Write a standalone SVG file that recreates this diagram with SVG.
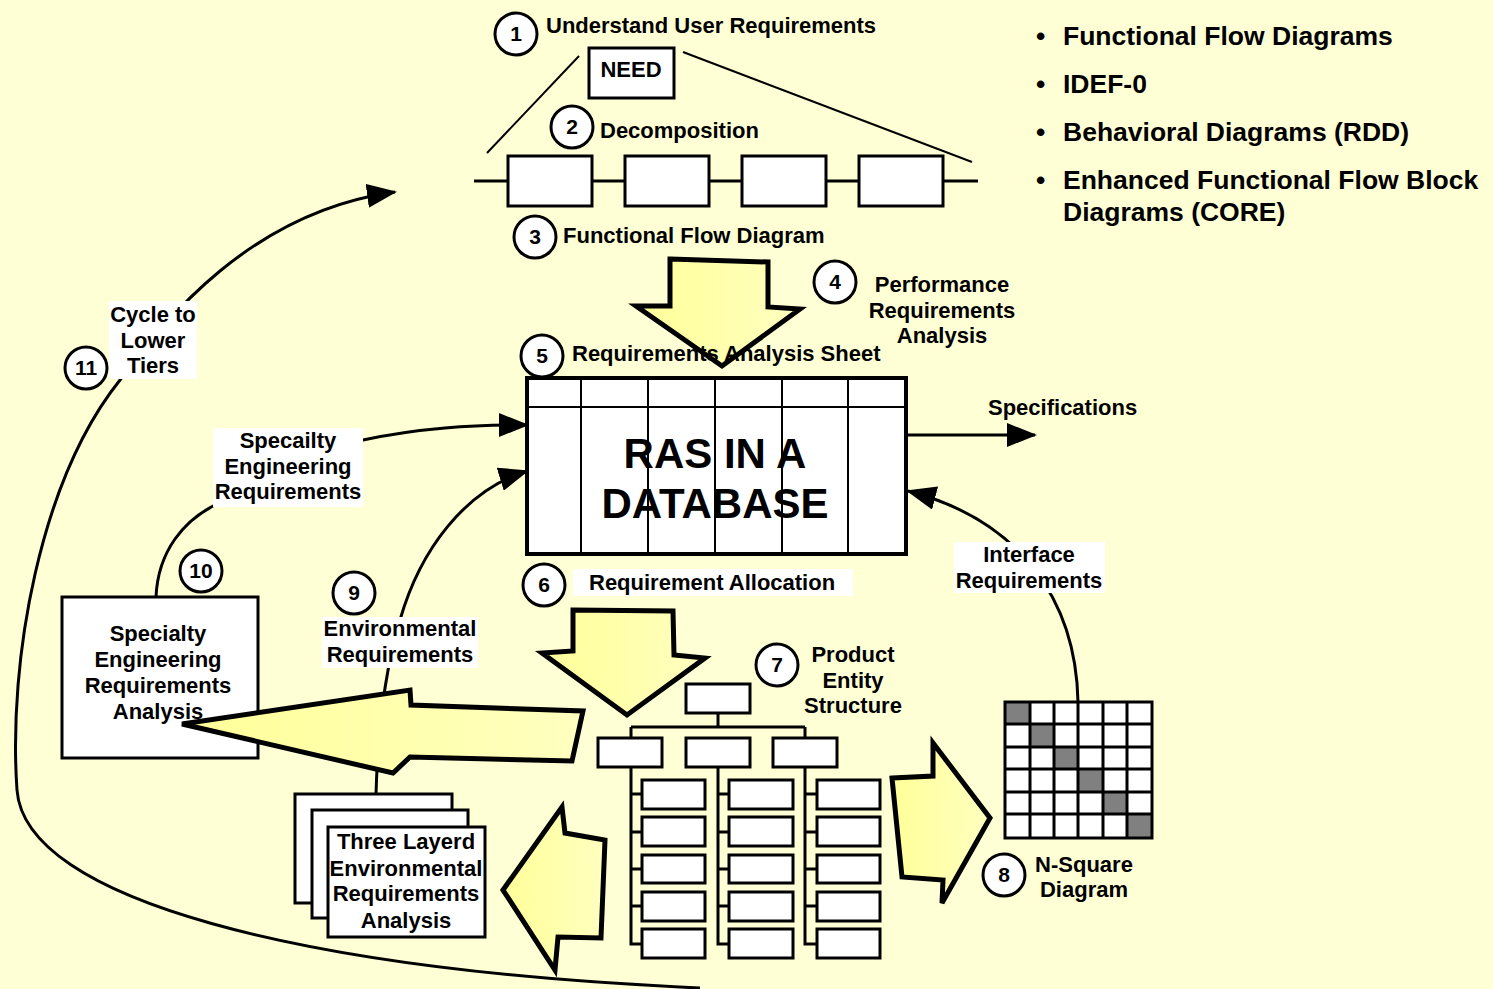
<svg xmlns="http://www.w3.org/2000/svg" width="1493" height="989" viewBox="0 0 1493 989">
  <defs>
    <style>
      .t { font-family: "Liberation Sans", Arial, Helvetica, sans-serif; font-weight: bold; font-size: 22px; fill: #000; }
      .c { text-anchor: middle; }
      .big { font-size: 42px; }
      .bul { font-size: 26.5px; }
      .num { font-size: 21px; text-anchor: middle; }
      .ring { fill: #fff; stroke: #000; stroke-width: 3; }
      .box { fill: #fff; stroke: #000; stroke-width: 3; }
      .thin { fill: none; stroke: #000; stroke-width: 2; }
      .wire { fill: none; stroke: #000; stroke-width: 3; }
      .conn { fill: none; stroke: #000; stroke-width: 3; }
      .fat { fill: url(#yel); stroke: #000; stroke-width: 5; stroke-linejoin: miter; }
      .lbl { fill: #fff; }
      .gray { fill: #808080; }
    </style>
    <linearGradient id="yel" x1="0" y1="0" x2="1" y2="0">
      <stop offset="0" stop-color="#FFFF99"/>
      <stop offset="1" stop-color="#FFFFC0"/>
    </linearGradient>
    <marker id="head" markerUnits="userSpaceOnUse" markerWidth="30" markerHeight="24" refX="28" refY="12" orient="auto">
      <path d="M0,0 L30,12 L0,24 z" fill="#000"/>
    </marker>
  </defs>

  <rect width="1493" height="989" fill="#FFFFD6"/>

  <!-- connectors -->
  <g id="connectors">
    <path class="conn" d="M700,988 C300,970 25,900 17,790 C8,660 40,480 120,380 C165,320 250,212 395,192" marker-end="url(#head)"/>
    <path class="conn" d="M156,597 C158,550 185,520 215,505 C260,480 320,450 363,440 C420,428 470,425 527,425" marker-end="url(#head)"/>
    <path class="conn" d="M376,795 C378,720 388,660 400,620 C420,550 465,490 527,471" marker-end="url(#head)"/>
    <path class="conn" d="M1078,702 C1076,600 1020,520 908,491" marker-end="url(#head)"/>
    <path class="conn" d="M906,435 L1035,435" marker-end="url(#head)"/>
  </g>

  <!-- label plates on connectors -->
  <g id="cycle-label">
    <rect class="lbl" x="109" y="301" width="88" height="78"/>
    <text class="t c" x="153" y="322">Cycle to</text>
    <text class="t c" x="153" y="348">Lower</text>
    <text class="t c" x="153" y="373">Tiers</text>
  </g>
  <g id="specialty-label">
    <rect class="lbl" x="213" y="428" width="150" height="79"/>
    <text class="t c" x="288" y="448">Specailty</text>
    <text class="t c" x="288" y="474">Engineering</text>
    <text class="t c" x="288" y="499">Requirements</text>
  </g>
  <g id="environmental-label">
    <rect class="lbl" x="322" y="617" width="156" height="51"/>
    <text class="t c" x="400" y="636">Environmental</text>
    <text class="t c" x="400" y="662">Requirements</text>
  </g>
  <g id="interface-label">
    <rect class="lbl" x="954" y="542" width="151" height="51"/>
    <text class="t c" x="1029" y="562">Interface</text>
    <text class="t c" x="1029" y="588">Requirements</text>
  </g>

  <!-- 1: user requirements -->
  <g id="step1">
    <circle class="ring" cx="516" cy="34" r="21"/>
    <text class="t num" x="516" y="41">1</text>
    <text class="t" x="546" y="33">Understand User Requirements</text>
    <rect class="box" x="589" y="48" width="85" height="50"/>
    <text class="t c" x="631" y="77">NEED</text>
  </g>

  <!-- 2: decomposition -->
  <g id="step2">
    <line class="thin" x1="579" y1="56" x2="487" y2="153"/>
    <line class="thin" x1="683" y1="52" x2="972" y2="162"/>
    <circle class="ring" cx="572" cy="127" r="21"/>
    <text class="t num" x="572" y="134">2</text>
    <text class="t" x="600" y="138">Decomposition</text>
  </g>

  <!-- 3: functional flow -->
  <g id="step3">
    <line class="wire" x1="474" y1="181" x2="978" y2="181"/>
    <rect class="box" x="508" y="156" width="84" height="50"/>
    <rect class="box" x="625" y="156" width="84" height="50"/>
    <rect class="box" x="742" y="156" width="84" height="50"/>
    <rect class="box" x="859" y="156" width="84" height="50"/>
    <circle class="ring" cx="535" cy="237" r="21"/>
    <text class="t num" x="535" y="244">3</text>
    <text class="t" x="563" y="243">Functional Flow Diagram</text>
  </g>

  <!-- 4: performance requirements -->
  <g id="step4">
    <path class="fat" d="M670,259 L768,262 L768,307 L800,309 L722,366 L636,306 L670,306 z"/>
    <circle class="ring" cx="835" cy="282" r="21"/>
    <text class="t num" x="835" y="289">4</text>
    <text class="t c" x="942" y="292">Performance</text>
    <text class="t c" x="942" y="318">Requirements</text>
    <text class="t c" x="942" y="343">Analysis</text>
  </g>

  <!-- 5: requirements analysis sheet -->
  <g id="step5">
    <circle class="ring" cx="542" cy="356" r="21"/>
    <text class="t num" x="542" y="363">5</text>
    <text class="t" x="572" y="361">Requirements Analysis Sheet</text>
    <rect x="527" y="378" width="379" height="176" fill="#fff" stroke="#000" stroke-width="4"/>
    <line class="thin" x1="527" y1="407" x2="906" y2="407"/>
    <line class="thin" x1="581" y1="378" x2="581" y2="554"/>
    <line class="thin" x1="648" y1="378" x2="648" y2="554"/>
    <line class="thin" x1="715" y1="378" x2="715" y2="554"/>
    <line class="thin" x1="782" y1="378" x2="782" y2="554"/>
    <line class="thin" x1="848" y1="378" x2="848" y2="554"/>
    <text class="t c big" x="715" y="468">RAS IN A</text>
    <text class="t c big" x="715" y="518">DATABASE</text>
  </g>

  <g id="specifications">
    <text class="t" x="988" y="415">Specifications</text>
  </g>

  <!-- 6: requirement allocation -->
  <g id="step6">
    <circle class="ring" cx="544" cy="585" r="21"/>
    <text class="t num" x="544" y="592">6</text>
    <rect class="lbl" x="573" y="569" width="280" height="27"/>
    <text class="t" x="589" y="590">Requirement Allocation</text>
    <path class="fat" d="M573,610 L673,611 L674,655 L705,658 L627,715 L542,653 L573,651 z"/>
  </g>

  <!-- 7: product entity structure -->
  <g id="step7">
    <circle class="ring" cx="777" cy="665" r="21"/>
    <text class="t num" x="777" y="672">7</text>
    <text class="t c" x="853" y="662">Product</text>
    <text class="t c" x="853" y="688">Entity</text>
    <text class="t c" x="853" y="713">Structure</text>
    <path class="wire" d="M718,713 V727 M631,727 H805 M631,727 V738 M805,727 V738"/>
    <path class="wire" d="M631,767 V944 H642 M631,794 H642 M631,832 H642 M631,869 H642 M631,906 H642"/>
    <path class="wire" d="M718,767 V944 H729 M718,794 H729 M718,832 H729 M718,869 H729 M718,906 H729"/>
    <path class="wire" d="M805,767 V944 H817 M805,794 H817 M805,832 H817 M805,869 H817 M805,906 H817"/>
    <rect class="box" x="686" y="684" width="64" height="29"/>
    <rect class="box" x="598" y="738" width="64" height="29"/>
    <rect class="box" x="686" y="738" width="64" height="29"/>
    <rect class="box" x="773" y="738" width="64" height="29"/>
    <rect class="box" x="642" y="780" width="63" height="29"/>
    <rect class="box" x="642" y="817" width="63" height="29"/>
    <rect class="box" x="642" y="855" width="63" height="28"/>
    <rect class="box" x="642" y="892" width="63" height="29"/>
    <rect class="box" x="642" y="929" width="63" height="29"/>
    <rect class="box" x="729" y="780" width="64" height="29"/>
    <rect class="box" x="729" y="817" width="64" height="29"/>
    <rect class="box" x="729" y="855" width="64" height="28"/>
    <rect class="box" x="729" y="892" width="64" height="29"/>
    <rect class="box" x="729" y="929" width="64" height="29"/>
    <rect class="box" x="817" y="780" width="63" height="29"/>
    <rect class="box" x="817" y="817" width="63" height="29"/>
    <rect class="box" x="817" y="855" width="63" height="28"/>
    <rect class="box" x="817" y="892" width="63" height="29"/>
    <rect class="box" x="817" y="929" width="63" height="29"/>
  </g>

  <!-- 8: N-square diagram -->
  <g id="step8">
    <path class="fat" d="M892,778 L933,776 L933,743 L990,818 L942,903 L943,880 L902,877 z"/>
    <rect x="1005" y="702" width="147" height="136" fill="#fff"/>
    <rect class="gray" x="1005" y="702" width="25" height="22"/>
    <rect class="gray" x="1030" y="724" width="24" height="23"/>
    <rect class="gray" x="1054" y="747" width="24" height="22"/>
    <rect class="gray" x="1078" y="769" width="25" height="23"/>
    <rect class="gray" x="1103" y="792" width="24" height="22"/>
    <rect class="gray" x="1127" y="814" width="25" height="24"/>
    <path class="wire" d="M1030,702 V838 M1054,702 V838 M1078,702 V838 M1103,702 V838 M1127,702 V838 M1005,724 H1152 M1005,747 H1152 M1005,769 H1152 M1005,792 H1152 M1005,814 H1152"/>
    <rect x="1005" y="702" width="147" height="136" fill="none" stroke="#000" stroke-width="3"/>
    <circle class="ring" cx="1004" cy="875" r="21"/>
    <text class="t num" x="1004" y="882">8</text>
    <text class="t c" x="1084" y="872">N-Square</text>
    <text class="t c" x="1084" y="897">Diagram</text>
  </g>

  <!-- 9: environmental requirements -->
  <g id="step9">
    <circle class="ring" cx="354" cy="593" r="21"/>
    <text class="t num" x="354" y="600">9</text>
    <rect class="box" x="295" y="794" width="157" height="109"/>
    <rect class="box" x="312" y="810" width="156" height="108"/>
    <rect class="box" x="328" y="827" width="157" height="110"/>
    <text class="t c" x="406" y="849">Three Layerd</text>
    <text class="t c" x="406" y="876">Environmental</text>
    <text class="t c" x="406" y="901">Requirements</text>
    <text class="t c" x="406" y="928">Analysis</text>
    <path class="fat" d="M503,890 L562,807 L565,833 L605,840 L601,938 L558,937 L555,970 z"/>
  </g>

  <!-- 10: specialty engineering -->
  <g id="step10">
    <circle class="ring" cx="201" cy="571" r="21"/>
    <text class="t num" x="201" y="578">10</text>
    <rect class="box" x="62" y="597" width="196" height="161"/>
    <text class="t c" x="158" y="641">Specialty</text>
    <text class="t c" x="158" y="667">Engineering</text>
    <text class="t c" x="158" y="693">Requirements</text>
    <text class="t c" x="158" y="719">Analysis</text>
    <path class="fat" d="M182,724 L410,690 L411,705 L583,711 L572,761 L410,757 L393,773 z"/>
  </g>

  <!-- 11: cycle -->
  <g id="step11">
    <circle class="ring" cx="86" cy="368" r="21"/>
    <text class="t num" x="86" y="375">11</text>
  </g>

  <!-- method list -->
  <g id="methods">
    <text class="t bul" x="1036" y="45">•</text>
    <text class="t bul" x="1063" y="45">Functional Flow Diagrams</text>
    <text class="t bul" x="1036" y="93">•</text>
    <text class="t bul" x="1063" y="93">IDEF-0</text>
    <text class="t bul" x="1036" y="141">•</text>
    <text class="t bul" x="1063" y="141">Behavioral Diagrams (RDD)</text>
    <text class="t bul" x="1036" y="189">•</text>
    <text class="t bul" x="1063" y="189">Enhanced Functional Flow Block</text>
    <text class="t bul" x="1063" y="221">Diagrams (CORE)</text>
  </g>
</svg>
